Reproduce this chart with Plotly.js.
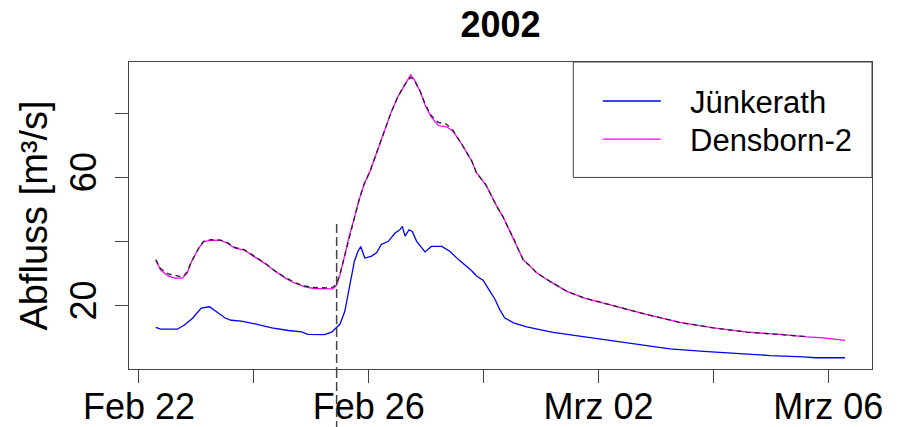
<!DOCTYPE html>
<html>
<head>
<meta charset="utf-8">
<script src="https://cdn.plot.ly/plotly-3.0.1.min.js"></script>
<style>
  html, body { margin: 0; padding: 0; background: #fff; }
  #chart { width: 899px; height: 427px; }
</style>
</head>
<body>
<div id="chart"></div>
<script>
// ---- data ----
var chartTitle = '2002';
var seriesNames = ['Jünkerath', 'Densborn-2'];
var yTitle = 'Abfluss [m³/s]';

var densTime = [
  '2002-02-22 07:00','2002-02-22 09:00','2002-02-22 12:00','2002-02-22 15:00','2002-02-22 18:00',
  '2002-02-22 20:00','2002-02-22 22:00','2002-02-23 01:00','2002-02-23 03:00','2002-02-23 06:00',
  '2002-02-23 10:00','2002-02-23 13:00','2002-02-23 16:00','2002-02-23 20:00','2002-02-24 00:00',
  '2002-02-24 05:00','2002-02-24 09:00','2002-02-24 13:00','2002-02-24 17:00','2002-02-24 21:00',
  '2002-02-25 01:00','2002-02-25 06:00','2002-02-25 09:00','2002-02-25 10:30','2002-02-25 12:00',
  '2002-02-25 14:00','2002-02-25 16:00','2002-02-25 18:00','2002-02-25 20:00','2002-02-25 22:00',
  '2002-02-26 00:30','2002-02-26 02:30','2002-02-26 04:30','2002-02-26 06:45','2002-02-26 09:30',
  '2002-02-26 12:15','2002-02-26 15:00','2002-02-26 17:30','2002-02-26 19:00','2002-02-26 21:30',
  '2002-02-26 23:30','2002-02-27 02:00','2002-02-27 05:00','2002-02-27 08:30','2002-02-27 11:15',
  '2002-02-27 15:00','2002-02-27 19:00','2002-02-27 21:00','2002-02-28 01:00','2002-02-28 05:30',
  '2002-02-28 08:00','2002-02-28 10:30','2002-02-28 12:30','2002-02-28 14:30','2002-02-28 16:30',
  '2002-02-28 19:30','2002-02-28 22:00','2002-03-01 03:45','2002-03-01 10:45','2002-03-01 17:45',
  '2002-03-02 02:00','2002-03-02 09:00','2002-03-02 20:00','2002-03-03 10:00','2002-03-04 00:00',
  '2002-03-04 14:00','2002-03-05 04:00','2002-03-05 15:00','2002-03-05 22:00','2002-03-06 07:00'
];
var densborn = [
  34.2, 31.2, 29.4, 28.6, 28.6,
  30.0, 33.8, 38.0, 40.0, 40.4,
  40.5, 39.5, 38.0, 37.4, 35.4,
  33.0, 30.7, 28.7, 27.1, 26.0,
  25.4, 25.2, 25.3, 26.4, 29.7,
  35.9, 42.2, 47.4, 53.1, 57.8,
  61.9, 66.1, 70.2, 74.4, 80.6,
  85.3, 88.9, 92.0, 90.5, 86.8,
  82.7, 79.0, 76.2, 75.8, 74.4,
  70.2, 65.2, 61.5, 57.6, 51.0,
  47.9, 43.9, 41.1, 37.5, 34.4,
  32.3, 30.4, 27.6, 24.5, 22.5,
  20.9, 19.4, 17.3, 14.8, 13.1,
  11.8, 11.1, 10.3, 10.0, 9.2
];

// black dashed companion curve (no legend entry), ends Mar 05 15:00
var dashedTime = densTime.slice(0, 68);
var dashedCurve = [
  34.4, 31.6, 30.0, 29.4, 29.0,
  30.4, 33.9, 38.0, 40.1, 40.6,
  40.5, 39.7, 38.2, 37.5, 35.5,
  33.1, 30.8, 28.9, 27.3, 26.2,
  25.7, 25.6, 25.8, 26.8, 29.9,
  35.9, 42.2, 47.4, 53.1, 57.8,
  61.9, 66.1, 70.2, 74.4, 80.6,
  85.3, 88.9, 91.2, 90.3, 86.9,
  83.0, 79.4, 77.2, 76.6, 74.6,
  70.2, 65.2, 61.5, 57.6, 51.0,
  47.9, 43.9, 41.1, 37.5, 34.4,
  32.3, 30.4, 27.6, 24.5, 22.5,
  20.9, 19.4, 17.3, 14.8, 13.1,
  11.8, 11.1, 10.4
];

var junkTime = [
  '2002-02-22 07:00','2002-02-22 09:00','2002-02-22 16:00','2002-02-22 19:00','2002-02-22 22:30',
  '2002-02-23 02:00','2002-02-23 05:30','2002-02-23 08:30','2002-02-23 12:00','2002-02-23 14:30',
  '2002-02-23 18:45','2002-02-24 00:30','2002-02-24 07:30','2002-02-24 14:30','2002-02-24 20:00',
  '2002-02-24 22:30','2002-02-25 05:30','2002-02-25 08:30','2002-02-25 11:00','2002-02-25 12:00',
  '2002-02-25 14:00','2002-02-25 16:00','2002-02-25 18:00','2002-02-25 19:30','2002-02-25 20:40',
  '2002-02-25 22:20','2002-02-26 01:00','2002-02-26 03:15','2002-02-26 05:15','2002-02-26 08:10',
  '2002-02-26 11:00','2002-02-26 13:00','2002-02-26 14:00','2002-02-26 15:10','2002-02-26 16:50',
  '2002-02-26 18:10','2002-02-26 20:00','2002-02-26 23:30','2002-02-27 02:10','2002-02-27 06:30',
  '2002-02-27 09:50','2002-02-27 13:30','2002-02-27 16:00','2002-02-27 19:00','2002-02-27 21:10',
  '2002-02-27 23:45','2002-02-28 02:40','2002-02-28 04:50','2002-02-28 06:45','2002-02-28 08:50',
  '2002-02-28 12:30','2002-02-28 18:00','2002-03-01 05:00','2002-03-01 16:20','2002-03-02 00:45',
  '2002-03-02 13:10','2002-03-02 18:40','2002-03-03 05:50','2002-03-03 20:00','2002-03-04 09:50',
  '2002-03-04 23:45','2002-03-05 13:40','2002-03-05 18:30','2002-03-06 07:00'
];
var juenkerath = [
  13.3, 12.7, 12.7, 14.0, 16.2,
  19.3, 19.7, 18.1, 16.2, 15.5,
  15.2, 14.4, 13.1, 12.3, 11.9,
  11.1, 11.0, 11.8, 13.6, 14.3,
  18.3, 26.6, 33.9, 37.0, 38.5,
  34.9, 35.4, 36.5, 39.1, 40.1,
  42.7, 43.7, 44.8, 41.7, 43.7,
  43.2, 40.1, 36.8, 38.5, 38.5,
  37.0, 34.4, 32.8, 30.9, 29.2,
  28.0, 24.5, 21.9, 18.8, 16.2,
  14.7, 13.4, 11.7, 10.5, 9.7,
  8.4, 7.6, 6.6, 5.8, 5.1,
  4.5, 4.1, 3.8, 3.8
];

var eventTime = '2002-02-25 10:35';
var eventTop = 45.5;

var tickDates = ['2002-02-22','2002-02-24','2002-02-26','2002-02-28','2002-03-02','2002-03-04','2002-03-06'];
var tickLabels = ['Feb 22','','Feb 26','','Mrz 02','','Mrz 06'];
var yTickVals = [20, 40, 60, 80];
var yTickText = ['20', '', '60', ''];
var xRange = ['2002-02-21 19:50', '2002-03-06 18:15'];
var yRange = [0.3, 96.0];

// ---- drawing ----
var FONT = 'Liberation Sans, Arial, Helvetica, sans-serif';
var AX = '#444444';

var traces = [
  { x: densTime, y: densborn, type: 'scatter', mode: 'lines', name: seriesNames[1],
    line: { color: '#ff00ff', width: 1.3 }, showlegend: false },
  { x: dashedTime, y: dashedCurve, type: 'scatter', mode: 'lines', name: 'gestrichelt',
    line: { color: '#222222', width: 1.3, dash: '5px,4px' }, showlegend: false },
  { x: junkTime, y: juenkerath, type: 'scatter', mode: 'lines', name: seriesNames[0],
    line: { color: '#0000ff', width: 1.3 }, showlegend: false }
];

var legX0 = 0.598, legY0 = 0.624;
var layout = {
  width: 899, height: 427,
  margin: { l: 129, r: 27, t: 62, b: 58, pad: 0 },
  paper_bgcolor: '#ffffff', plot_bgcolor: '#ffffff',
  showlegend: false,
  font: { family: FONT, color: '#000000' },
  title: { text: '<b>' + chartTitle + '</b>', font: { family: FONT, size: 36, color: '#000' },
           x: 0.5, xref: 'paper', xanchor: 'center', y: 0.943, yref: 'container', yanchor: 'middle' },
  xaxis: {
    type: 'date', range: xRange, tickmode: 'array', tickvals: tickDates, ticktext: tickLabels,
    ticks: 'outside', ticklen: 13, tickwidth: 1, tickcolor: AX, ticklabelstandoff: -7,
    showline: true, linecolor: AX, linewidth: 1, mirror: true,
    showgrid: false, zeroline: false,
    tickfont: { family: FONT, size: 36, color: '#000' }
  },
  yaxis: {
    range: yRange, tickmode: 'array', tickvals: yTickVals, ticktext: yTickText,
    ticks: 'outside', ticklen: 13, tickwidth: 1, tickcolor: AX, tickangle: -90, ticklabelstandoff: 5,
    showline: true, linecolor: AX, linewidth: 1, mirror: true,
    showgrid: false, zeroline: false,
    tickfont: { family: FONT, size: 36, color: '#000' },
    title: { text: yTitle, font: { family: FONT, size: 38, color: '#000' }, standoff: 3 }
  },
  shapes: [
    { type: 'line', xref: 'x', yref: 'y', x0: eventTime, x1: eventTime, y0: eventTop, y1: yRange[0],
      line: { color: AX, width: 1.5, dash: '9px,4px' }, layer: 'above' },
    { type: 'line', xref: 'x', yref: 'paper', x0: eventTime, x1: eventTime, y0: 0, y1: -0.3,
      line: { color: AX, width: 1.5, dash: '9px,4px' }, layer: 'above' },
    { type: 'rect', xref: 'paper', yref: 'paper', x0: legX0, x1: 1, y0: legY0, y1: 1,
      line: { color: AX, width: 1 }, fillcolor: 'rgba(255,255,255,1)', layer: 'above' },
    { type: 'line', xref: 'paper', yref: 'paper', x0: 0.6377, x1: 0.7158, y0: 0.873, y1: 0.873,
      line: { color: '#0000ff', width: 1.3 }, layer: 'above' },
    { type: 'line', xref: 'paper', yref: 'paper', x0: 0.6377, x1: 0.7158, y0: 0.749, y1: 0.749,
      line: { color: '#ff00ff', width: 1.3 }, layer: 'above' }
  ],
  annotations: [
    { xref: 'paper', yref: 'paper', x: 0.7526, y: 0.867, xanchor: 'left', yanchor: 'middle',
      text: seriesNames[0], showarrow: false, font: { family: FONT, size: 31, color: '#000' } },
    { xref: 'paper', yref: 'paper', x: 0.7526, y: 0.743, xanchor: 'left', yanchor: 'middle',
      text: seriesNames[1], showarrow: false, font: { family: FONT, size: 31, color: '#000' } }
  ]
};

Plotly.newPlot('chart', traces, layout, { displayModeBar: false, staticPlot: true });
</script>
</body>
</html>
